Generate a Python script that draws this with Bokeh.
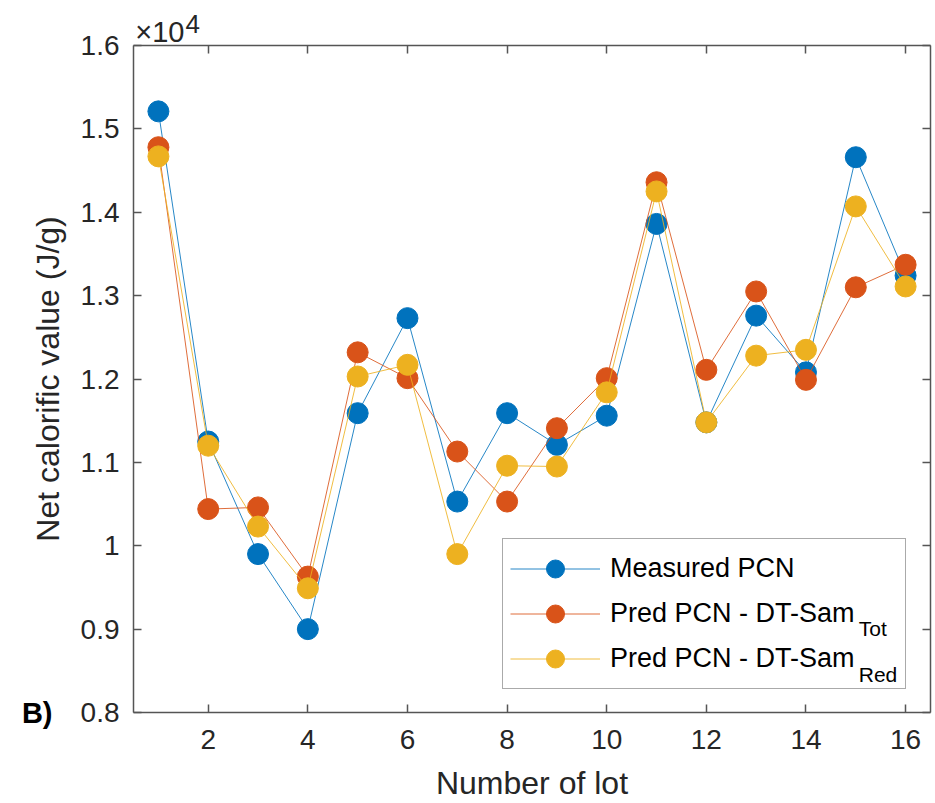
from bokeh.plotting import figure
from bokeh.models import (Legend, LegendItem, LinearAxis, Label, FixedTicker, Range1d)
from bokeh.embed import file_html
from bokeh.resources import INLINE

# Net calorific value per lot (J/g)
lots = list(range(1, 17))
measured_pcn = [15210, 11250, 9900, 9000, 11590, 12730, 10530, 11590,
                11210, 11560, 13860, 11480, 12760, 12080, 14660, 13240]
pred_pcn_tot = [14780, 10440, 10460, 9630, 12320, 12010, 11130, 10530,
                11410, 12010, 14360, 12110, 13050, 11990, 13100, 13370]
pred_pcn_red = [14670, 11200, 10230, 9490, 12030, 12170, 9900, 10960,
                10950, 11840, 14250, 11480, 12280, 12350, 14070, 13110]

x_ticks = [2, 4, 6, 8, 10, 12, 14, 16]
y_ticks = [8000, 9000, 10000, 11000, 12000, 13000, 14000, 15000, 16000]
y_tick_labels = ["0.8", "0.9", "1", "1.1", "1.2", "1.3", "1.4", "1.5", "1.6"]

series = [
    ("Measured PCN", measured_pcn, "#0072BD"),
    ("Pred PCN - DT-Sam", pred_pcn_tot, "#D95319"),
    ("Pred PCN - DT-Sam", pred_pcn_red, "#EDB120"),
]
subscripts = ["Tot", "Red"]

FONT = "Liberation Sans"
AX = "#262626"
SPINE = "#555555"

p = figure(width=935, height=803, output_backend="svg", toolbar_location=None,
           x_range=Range1d(0.5, 16.5), y_range=Range1d(8000, 16000),
           min_border_left=133, min_border_right=5, min_border_top=45,
           min_border_bottom=91)
p.outline_line_color = None
p.xgrid.visible = False
p.ygrid.visible = False
p.background_fill_color = "white"
p.border_fill_color = "white"


def style_spine(ax, size="28px"):
    ax.axis_line_color = SPINE
    ax.axis_line_width = 1.5
    ax.major_label_text_font = FONT
    ax.major_label_text_color = AX
    ax.major_label_text_font_size = size


def inward_major(ax, ticks):
    ax.ticker = FixedTicker(ticks=ticks)
    ax.major_tick_in = 8
    ax.major_tick_out = 0
    ax.major_tick_line_color = SPINE
    ax.major_tick_line_width = 1.5
    ax.minor_tick_line_color = None


def inward_minor(ax, label_ticks, mark_ticks):
    # tick marks come from the minor ticks; the major ticks only carry text
    ax.ticker = FixedTicker(ticks=label_ticks, minor_ticks=mark_ticks)
    ax.major_tick_line_color = None
    ax.minor_tick_in = 8
    ax.minor_tick_out = 0
    ax.minor_tick_line_color = SPINE
    ax.minor_tick_line_width = 1.5


def text_only_axis(ax, tick, text, size, standoff, style="normal", color=AX):
    ax.ticker = FixedTicker(ticks=[tick])
    ax.major_label_overrides = {tick: text}
    ax.axis_line_color = None
    ax.major_tick_line_color = None
    ax.minor_tick_line_color = None
    ax.major_tick_out = 0
    ax.major_tick_in = 0
    ax.major_label_text_font = FONT
    ax.major_label_text_font_size = size
    ax.major_label_text_font_style = style
    ax.major_label_text_color = color
    ax.major_label_standoff = standoff


xa = p.xaxis[0]
ya = p.yaxis[0]
style_spine(xa)
style_spine(ya)
inward_major(xa, x_ticks)
inward_major(ya, y_ticks)
ya.major_label_overrides = {t: s for t, s in zip(y_ticks, y_tick_labels)}
xa.major_label_standoff = 17
ya.major_label_standoff = 14

xa.axis_label = "Number of lot"
ya.axis_label = "Net calorific value (J/g)"
for ax in (xa, ya):
    ax.axis_label_text_font = FONT
    ax.axis_label_text_font_size = "32px"
    ax.axis_label_text_font_style = "normal"
    ax.axis_label_text_color = AX
xa.axis_label_standoff = 13
ya.axis_label_standoff = 12

# top spine: tick marks plus the "x10" of the axis multiplier
top_ax = LinearAxis()
style_spine(top_ax, "29px")
inward_minor(top_ax, [1.03], x_ticks)
top_ax.major_label_overrides = {1.03: "\u00d710"}
top_ax.major_label_standoff = -8
p.add_layout(top_ax, "above")

# exponent of the multiplier
exp_ax = LinearAxis()
text_only_axis(exp_ax, 1.69, "4", "26px", -20)
p.add_layout(exp_ax, "above")

# right spine: tick marks only
right_ax = LinearAxis()
style_spine(right_ax)
inward_minor(right_ax, [], y_ticks)
right_ax.major_label_standoff = 0
p.add_layout(right_ax, "right")

# panel tag on the far left
tag_ax = LinearAxis()
text_only_axis(tag_ax, 8000, "B)", "29px", -26, style="bold", color="black")
p.add_layout(tag_ax, "left")

items = []
for name, vals, color in series:
    ln = p.line(lots, vals, line_color=color, line_width=1, line_alpha=0.85)
    sc = p.scatter(lots, vals, size=21, marker="circle",
                   fill_color=color, line_color=color)
    items.append(LegendItem(label=name, renderers=[ln, sc]))

legend = Legend(items=items, location=(369, 23), margin=0, padding=7,
                glyph_width=90, glyph_height=45, label_height=45,
                label_width=288, spacing=0, label_standoff=10,
                label_text_font=FONT, label_text_font_size="27px",
                label_text_color="black",
                border_line_color=SPINE, border_line_width=1.5,
                background_fill_alpha=0.0)
p.add_layout(legend, "center")

# subscripts of the two predicted series
for sub, y in zip(subscripts, (9010, 8460)):
    p.add_layout(Label(x=15.06, y=y, text=sub, text_font=FONT,
                       text_font_size="21px", text_color="black",
                       text_baseline="alphabetic"))

open("out.html", "w").write(file_html(p, INLINE))
